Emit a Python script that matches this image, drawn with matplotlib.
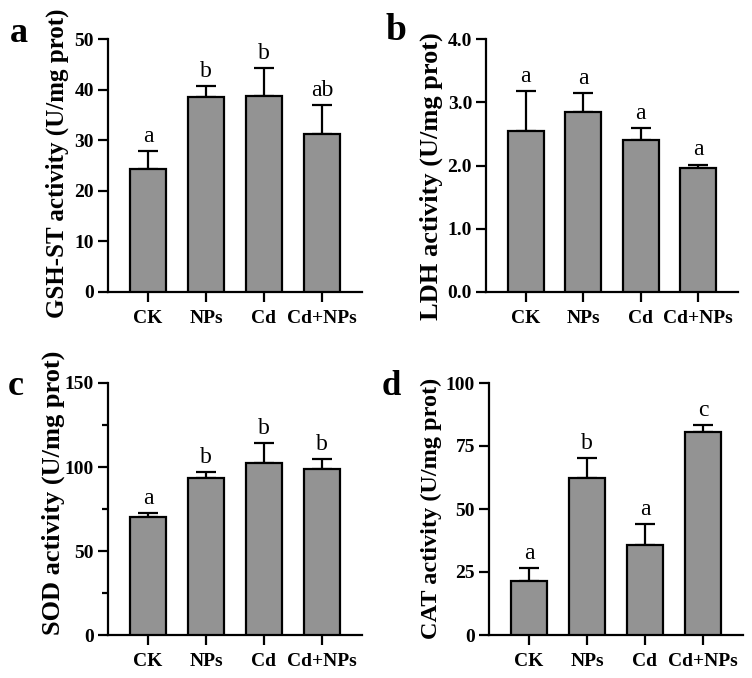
import matplotlib
matplotlib.use("Agg")
import matplotlib.pyplot as plt
from matplotlib.ticker import MultipleLocator, FormatStrFormatter

groups = ["CK", "NPs", "Cd", "Cd+NPs"]

gst_mean = [24.4, 38.5, 38.8, 31.2]
gst_sd = [3.5, 2.2, 5.5, 5.7]
gst_sig = ["a", "b", "b", "ab"]

ldh_mean = [2.54, 2.85, 2.40, 1.955]
ldh_sd = [0.63, 0.30, 0.19, 0.06]
ldh_sig = ["a", "a", "a", "a"]

sod_mean = [70.5, 93.4, 102.3, 98.7]
sod_sd = [2.0, 3.4, 11.7, 6.2]
sod_sig = ["a", "b", "b", "b"]

cat_mean = [21.6, 62.5, 35.6, 80.7]
cat_sd = [4.8, 7.8, 8.4, 2.5]
cat_sig = ["a", "b", "a", "c"]

SERIF = ["Liberation Serif", "DejaVu Serif"]
plt.rcParams["font.family"] = SERIF

W, H = 752, 678
fig = plt.figure(figsize=(W / 100, H / 100), dpi=100)


def make_ax(l, r, t, b):
    return fig.add_axes([l / W, (H - b) / H, (r - l) / W, (b - t) / H])


panels = [
    dict(box=(108, 362, 39, 292), mean=gst_mean, sd=gst_sd, sig=gst_sig,
         ylim=50, major=10, minor=None, fmt="%d",
         ylabel="GSH-ST activity (U/mg prot)", ysize=18, ycx=57, ycy=163,
         letter="a", lpos=(10, 42), lsize=26),
    dict(box=(486, 738, 39, 292), mean=ldh_mean, sd=ldh_sd, sig=ldh_sig,
         ylim=4.0, major=1.0, minor=None, fmt="%.1f",
         ylabel="LDH activity (U/mg prot)", ysize=19, ycx=431, ycy=176,
         letter="b", lpos=(386, 40), lsize=27),
    dict(box=(108, 362, 383, 635), mean=sod_mean, sd=sod_sd, sig=sod_sig,
         ylim=150, major=50, minor=25, fmt="%d",
         ylabel="SOD activity (U/mg prot)", ysize=19, ycx=53, ycy=493,
         letter="c", lpos=(8, 395), lsize=26),
    dict(box=(489, 743, 383, 635), mean=cat_mean, sd=cat_sd, sig=cat_sig,
         ylim=100, major=25, minor=None, fmt="%d",
         ylabel="CAT activity (U/mg prot)", ysize=17.5, ycx=431, ycy=508,
         letter="d", lpos=(382, 395), lsize=25),
]

LW = 1.6
for p in panels:
    l, r, t, b = p["box"]
    ax = make_ax(l, r, t, b)
    x = list(range(len(groups)))
    ax.bar(x, p["mean"], width=0.62, color="#939393", edgecolor="black",
           linewidth=LW, zorder=3)
    ax.errorbar(x, p["mean"], yerr=[[0] * len(x), p["sd"]], fmt="none",
                ecolor="black", elinewidth=LW, capsize=7, capthick=LW, zorder=2)
    for xi, m, s, lab in zip(x, p["mean"], p["sd"], p["sig"]):
        ax.annotate(lab, xy=(xi, m + s), xytext=(0, 3), textcoords="offset points",
                    ha="center", va="bottom", fontsize=17)
    ax.set_xlim(-0.69, 3.69)
    ax.set_ylim(0, p["ylim"])
    ax.yaxis.set_major_locator(MultipleLocator(p["major"]))
    if p["minor"]:
        ax.yaxis.set_minor_locator(MultipleLocator(p["minor"]))
    ax.yaxis.set_major_formatter(FormatStrFormatter(p["fmt"]))
    ax.set_xticks(x)
    ax.set_xticklabels(groups)
    for sp in ["top", "right"]:
        ax.spines[sp].set_visible(False)
    for sp in ["left", "bottom"]:
        ax.spines[sp].set_linewidth(LW)
    ax.tick_params(axis="y", which="major", length=7, width=LW, direction="out",
                   labelsize=14, pad=3)
    ax.tick_params(axis="x", which="major", length=7, width=LW, direction="out",
                   labelsize=14, pad=6)
    ax.tick_params(axis="y", which="minor", length=4.5, width=LW)
    for tl in ax.get_xticklabels() + ax.get_yticklabels():
        tl.set_fontweight("bold")
    ax.set_ylabel(p["ylabel"], fontsize=p["ysize"], fontweight="bold")
    ax.yaxis.label.set_va("center")
    ax.yaxis.set_label_coords((p["ycx"] - l) / (r - l), (b - p["ycy"]) / (b - t))
    lx, ly = p["lpos"]
    fig.text(lx / W, (H - ly) / H, p["letter"], fontsize=p["lsize"],
             fontweight="bold", ha="left", va="baseline")

fig.savefig("out.png", dpi=100, facecolor="white")
